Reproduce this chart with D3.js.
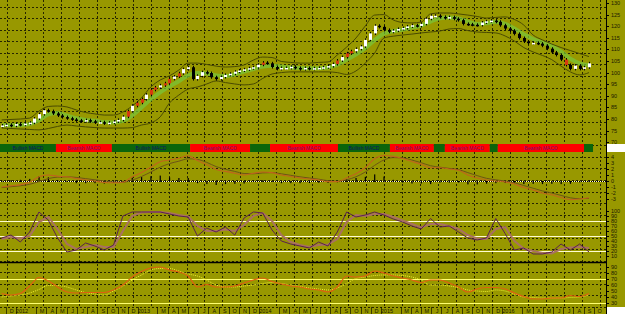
<!DOCTYPE html>
<html>
<head>
<meta charset="utf-8">
<script src="https://cdn.jsdelivr.net/npm/d3@7/dist/d3.min.js"></script>
<style>
  body { margin: 0; background: #989800; }
  svg { display: block; font-family: "Liberation Sans", Arial, sans-serif; }
</style>
</head>
<body>
<div id="viz-container"></div>
<script>
// biweekly price bars
let candleStart = "2011-11-07";
let closes = [77.2,77.5,77.1,77.8,77.5,78.0,78.4,80.2,82.1,83.8,
  83.4,82.4,81.5,80.8,80.3,79.8,79.4,79.1,79.5,79.0,
  78.5,78.6,78.1,78.4,78.9,79.6,81.0,83.4,85.7,87.0,
  88.6,90.5,92.6,93.6,94.5,95.4,97.3,98.3,99.7,101.5,
  102.3,97.2,98.6,100.2,99.8,98.0,97.2,98.1,99.0,99.5,
  100.4,100.9,101.4,101.9,102.3,103.4,104.3,104.0,102.4,101.6,
  102.0,102.0,102.5,102.0,101.5,102.0,101.6,101.9,102.0,102.3,
  102.8,103.7,105.2,106.7,108.3,109.2,110.2,111.3,114.1,116.9,
  120.2,119.7,118.4,117.6,118.1,118.8,119.2,119.9,120.4,120.1,
  121.0,123.2,124.5,124.5,124.0,123.5,123.9,123.2,122.6,121.0,
  120.8,120.6,120.5,121.6,122.1,122.4,121.9,120.4,119.0,118.1,
  116.7,114.9,113.4,112.7,112.8,112.5,111.6,110.3,108.7,107.6,
  105.6,103.3,101.6,103.0,101.6,102.3,104.0];
let firstOpen = 77.0;
let redCandles = [27,29,30,32,33,35,36,38,56,72,74,75,121];

// 4-weekly indicator samples
let sampleStart = "2011-11-07";
let bbUpper = [79.6,79.8,80.0,80.4,83.4,85.4,85.6,85.2,83.9,82.8,82.2,81.7,81.7,83.0,85.6,89.1,93.8,96.8,98.6,101.1,
  104.1,104.1,103.5,102.8,102.4,102.6,103.3,105.4,106.7,106.5,104.8,104.4,104.1,104.1,104.4,104.6,107.6,111.0,114.9,120.1,
  124.8,125.0,122.7,121.6,121.4,121.8,125.3,125.7,125.7,125.3,124.8,124.2,123.5,123.8,124.0,122.9,120.5,116.2,114.1,112.3,
  110.8,109.5,108.2,106.9];
let bbLower = [76.1,75.9,75.7,75.5,75.3,75.9,76.8,77.4,77.0,76.6,76.3,76.1,76.1,76.1,76.3,77.4,78.3,80.9,86.9,90.3,
  92.9,93.8,95.1,96.4,95.7,95.1,94.7,95.1,97.5,99.4,100.0,100.3,100.3,100.3,100.3,100.3,100.0,99.2,100.7,104.1,
  108.4,114.9,115.7,116.2,116.6,117.1,117.5,117.9,118.8,119.0,118.1,117.5,117.3,117.1,115.8,113.6,110.8,108.9,107.4,105.6,
  102.8,100.3,99.0,100.0];
let maLine = [77.3,77.3,77.4,77.8,79.5,82.0,82.6,81.5,80.3,79.6,79.2,78.7,78.5,79.2,81.5,85.0,88.5,91.5,94.0,96.3,
  98.8,99.8,99.6,98.8,98.5,99.3,100.4,101.5,102.6,103.0,102.6,102.2,102.0,101.9,101.9,102.2,103.4,105.5,107.8,110.5,
  114.0,116.8,117.9,118.5,119.4,120.3,122.0,123.4,123.8,123.3,122.0,121.0,121.3,121.9,121.0,119.0,116.5,114.5,113.0,111.5,
  109.0,106.0,104.0,103.2];
let macdLine = [-1.0,-0.8,-0.6,-0.2,0.7,1.0,0.8,0.7,0.4,0.2,0.0,-0.25,-0.3,-0.2,0.7,1.4,2.3,3.2,3.5,3.8,
  4.2,3.4,2.75,1.9,1.6,1.3,1.0,1.3,1.5,1.4,1.0,0.75,0.5,0.33,0.17,-0.1,-0.1,0.5,1.2,2.2,
  3.7,4.25,4.1,3.75,3.25,2.8,2.2,2.2,2.0,1.8,1.0,0.5,0.17,0.0,-0.17,-0.5,-1.1,-1.5,-2.0,-2.3,
  -2.75,-3.1,-3.0,-2.8];
let signalLine = [-1.1,-0.95,-0.8,-0.55,-0.1,0.4,0.65,0.7,0.6,0.4,0.2,0.0,-0.15,-0.2,0.15,0.75,1.5,2.3,2.9,3.3,
  3.7,3.6,3.1,2.4,1.95,1.6,1.25,1.2,1.35,1.4,1.2,0.95,0.7,0.5,0.3,0.05,-0.05,0.2,0.7,1.5,
  2.6,3.5,3.9,3.85,3.5,3.05,2.55,2.3,2.1,1.9,1.4,0.9,0.45,0.2,0.0,-0.3,-0.75,-1.2,-1.65,-2.0,
  -2.4,-2.8,-2.95,-2.9];
let stochK = [46,52,38,58,98,82,46,18,22,36,30,22,32,90,98,98,98,98,94,90,
  88,50,66,58,68,52,86,98,96,62,40,34,30,26,38,30,58,98,88,92,
  98,92,84,78,70,64,85,68,70,58,46,42,46,85,55,22,26,14,14,18,
  34,22,34,18];
let stochD = [44,48,45,50,78,88,64,34,24,28,32,28,28,60,90,97,98,98,96,92,
  89,70,60,60,63,60,72,90,96,80,52,38,32,28,32,33,44,78,92,90,
  94,94,88,81,74,67,74,74,70,64,52,45,44,64,68,40,25,20,16,15,
  24,27,28,26];
let rsiOrange = [45.8,43.3,45.8,58.3,72.5,66.7,56.7,48.3,46.7,47.5,47.5,47.5,51.7,60,73.3,82.5,88.3,90,85,81.7,
  75,56.7,60.8,56.7,56.7,58.3,63.3,68.3,71.7,65.8,61.7,58.3,56.7,53.3,51.7,48.3,56.7,75,73.3,75,
  83.3,80,75,71.7,68.3,64.2,68.3,68.3,63.3,56.7,48.3,53.3,55.8,55.8,53.3,46.7,40.8,36.7,36.7,38.3,
  38.3,42.5,40.8,45.8];
let rsiYellow = [40,41.7,43.3,46.7,52.5,59.2,59.2,56.7,51.7,47.5,45,43.3,50,58.3,68.3,76.7,85,87.5,87.5,83.3,
  78.3,75,68,60,56.7,56.7,58.3,60,62.5,64.2,62.5,60,57.5,55,53.3,51.7,55,62.5,70.8,73.3,
  75.8,76.7,76.7,75.8,73.3,68.3,60,60,58.3,55.8,51.7,50,49.2,51.7,50,45,40,39.2,38.3,38.3,
  38.3,39.2,40,43.3];

// MACD state strip
let macdStates = [
  ["2011-11-02","2012-04-18","Bullish"], ["2012-04-18","2012-10-03","Bearish"],
  ["2012-10-03","2013-05-26","Bullish"], ["2013-05-26","2013-11-22","Bearish"],
  ["2013-11-22","2014-01-21","Bullish"], ["2014-01-21","2014-08-13","Bearish"],
  ["2014-08-13","2015-01-16","Bullish"], ["2015-01-16","2015-05-28","Bearish"],
  ["2015-05-28","2015-06-30","Bullish"], ["2015-06-30","2015-11-12","Bearish"],
  ["2015-11-12","2015-12-06","Bullish"], ["2015-12-06","2016-08-21","Bearish"],
  ["2016-08-21","2016-09-17","Bullish"]
];

let priceTicks = [130,125,120,115,110,105,100,95,90,85,80,75,70];
let macdTicks = [4,3,2,1,0,-1,-2,-3];
let stochTicks = [100,90,80,70,60,50,40,30,20,10];
let lowerTicks = [90,80,70,60,50,40,30];
let stochLevels = [80,50,20];
let lowerLevels = [70,30];
let monthInitials = ["J","F","M","A","M","J","J","A","S","O","N","D"];

let parse = d3.utcParse("%Y-%m-%d");
let axisX = 606;

let viz = d3.select("#viz-container")
  .append("svg")
    .attr("width", 625)
    .attr("height", 314)
;

viz.append("rect").attr("width", 625).attr("height", 314).attr("fill", "#989800");

let x = d3.scaleUtc()
  .domain([parse("2011-11-02"), parse("2016-11-01")])
  .range([0, 608]);

let yPrice = d3.scaleLinear().domain([130, 70]).range([3, 142.2]);
let yMacd = d3.scaleLinear().domain([4, -3]).range([157, 199]);
let yStoch = d3.scaleLinear().domain([100, 0]).range([211, 261]);
let yLower = d3.scaleLinear().domain([90, 30]).range([267, 303]);

let candleDates = closes.map((c, i) => d3.utcDay.offset(parse(candleStart), 14 * i));
let sampleDates = macdLine.map((c, i) => d3.utcDay.offset(parse(sampleStart), 28 * i));

viz.append("clipPath").attr("id", "plot")
  .append("rect").attr("x", 0).attr("y", 0).attr("width", axisX).attr("height", 314);

let plot = viz.append("g").attr("clip-path", "url(#plot)");

// dotted grid
let grid = plot.append("g")
    .attr("stroke", "#000")
    .attr("stroke-width", 1)
    .attr("stroke-dasharray", "2,2")
    .attr("opacity", 0.75);
grid.selectAll(".gy").data(d3.range(6.7, 310, 11.55)).enter()
  .append("line")
    .attr("x1", 0).attr("x2", axisX)
    .attr("y1", d => Math.round(d) + 0.5).attr("y2", d => Math.round(d) + 0.5);
grid.selectAll(".gx").data(d3.range(6.7, axisX, 17.98)).enter()
  .append("line")
    .attr("y1", 0).attr("y2", 307)
    .attr("x1", d => Math.round(d) + 0.5).attr("x2", d => Math.round(d) + 0.5);

// ---- price panel
let bandLine = d3.line()
  .x((d, i) => x(sampleDates[i]))
  .y(d => yPrice(d))
  .curve(d3.curveMonotoneX);

plot.append("path")
  .attr("d", bandLine(maLine))
  .attr("fill", "none")
  .attr("stroke", "#78c83c")
  .attr("stroke-width", 4)
  .attr("opacity", 0.7);

[bbUpper, bbLower].forEach(band => {
  plot.append("path")
    .attr("d", bandLine(band))
    .attr("fill", "none")
    .attr("stroke", "#4a4a00")
    .attr("stroke-width", 1);
});

let candles = closes.map((c, i) => ({
  date: candleDates[i],
  open: i == 0 ? firstOpen : closes[i - 1],
  close: c,
  red: redCandles.includes(i)
}));

let cg = plot.append("g");
cg.selectAll("line").data(candles).enter()
  .append("line")
    .attr("x1", d => Math.round(x(d.date)) + 0.5)
    .attr("x2", d => Math.round(x(d.date)) + 0.5)
    .attr("y1", d => yPrice(Math.max(d.open, d.close)) - 1.5)
    .attr("y2", d => yPrice(Math.min(d.open, d.close)) + 1.5)
    .attr("stroke", "#000")
    .attr("stroke-width", 1);
cg.selectAll("rect").data(candles).enter()
  .append("rect")
    .attr("x", d => Math.round(x(d.date)) - 1)
    .attr("width", 3)
    .attr("y", d => yPrice(Math.max(d.open, d.close)))
    .attr("height", d => Math.max(1.5, Math.abs(yPrice(d.open) - yPrice(d.close))))
    .attr("fill", d => d.red ? "#d83a10" : (d.close >= d.open ? "#fff" : "#000"));

// ---- MACD state strip
let strip = viz.append("g");
strip.selectAll("rect").data(macdStates).enter()
  .append("rect")
    .attr("x", d => x(parse(d[0])))
    .attr("width", d => x(parse(d[1])) - x(parse(d[0])))
    .attr("y", 144).attr("height", 8)
    .attr("fill", d => d[2] == "Bullish" ? "#0b650b" : "#ff0000");
strip.selectAll("text").data(macdStates.filter(d => x(parse(d[1])) - x(parse(d[0])) > 32)).enter()
  .append("text")
    .attr("x", d => (x(parse(d[0])) + x(parse(d[1]))) / 2)
    .attr("y", 150)
    .attr("text-anchor", "middle")
    .attr("font-size", 5)
    .attr("fill", d => d[2] == "Bullish" ? "#10106a" : "#7a1070")
    .text(d => d[2] + " MACD");
viz.append("rect").attr("x", 606).attr("y", 144).attr("width", 19).attr("height", 8).attr("fill", "#fff");

// ---- MACD panel
let macdData = macdLine.map((m, i) => ({date: sampleDates[i], macd: m, signal: signalLine[i]}));
plot.append("line")
  .attr("x1", 0).attr("x2", axisX)
  .attr("y1", yMacd(0) + 0.5).attr("y2", yMacd(0) + 0.5)
  .attr("stroke", "#000");
plot.append("line")
  .attr("x1", 0).attr("x2", axisX)
  .attr("y1", yMacd(0) + 0.5).attr("y2", yMacd(0) + 0.5)
  .attr("stroke", "#fff8d0")
  .attr("stroke-dasharray", "1,1");
plot.selectAll(".hist").data(macdData).enter()
  .append("rect")
    .attr("x", d => x(d.date) - 0.5)
    .attr("width", 1.2)
    .attr("y", d => Math.min(yMacd(0), yMacd(d.macd - d.signal)))
    .attr("height", d => Math.abs(yMacd(0) - yMacd(d.macd - d.signal)) + 1)
    .attr("fill", "#000");
plot.append("path")
  .attr("d", d3.line().x(d => x(d.date)).y(d => yMacd(d.signal)).curve(d3.curveMonotoneX)(macdData))
  .attr("fill", "none").attr("stroke", "#6e5418").attr("stroke-width", 1);
plot.append("path")
  .attr("d", d3.line().x(d => x(d.date)).y(d => yMacd(d.macd)).curve(d3.curveMonotoneX)(macdData))
  .attr("fill", "none").attr("stroke", "#c0641c").attr("stroke-width", 1.1);

// ---- stochastic panel
plot.selectAll(".slev").data(stochLevels).enter()
  .append("line")
    .attr("x1", 0).attr("x2", axisX)
    .attr("y1", d => Math.round(yStoch(d)) + 0.5).attr("y2", d => Math.round(yStoch(d)) + 0.5)
    .attr("stroke", "#fffcd0").attr("stroke-width", 1);
let stochData = stochK.map((k, i) => ({date: sampleDates[i], k: k, d: stochD[i]}));
plot.append("path")
  .attr("d", d3.line().x(d => x(d.date)).y(d => yStoch(d.d))(stochData))
  .attr("fill", "none").attr("stroke", "#a87060").attr("stroke-width", 2);
plot.append("path")
  .attr("d", d3.line().x(d => x(d.date)).y(d => yStoch(d.k))(stochData))
  .attr("fill", "none").attr("stroke", "#5a2050").attr("stroke-width", 1);

plot.append("line")
  .attr("x1", 0).attr("x2", axisX)
  .attr("y1", 262.5).attr("y2", 262.5)
  .attr("stroke", "#000").attr("stroke-width", 1.5);

// ---- lower oscillator panel
plot.selectAll(".llev").data(lowerLevels).enter()
  .append("line")
    .attr("x1", 0).attr("x2", axisX)
    .attr("y1", d => Math.round(yLower(d)) + 0.5).attr("y2", d => Math.round(yLower(d)) + 0.5)
    .attr("stroke", "#ffff70").attr("stroke-width", 1);
let lowerData = rsiOrange.map((v, i) => ({date: sampleDates[i], a: v, b: rsiYellow[i]}));
plot.append("path")
  .attr("d", d3.line().x(d => x(d.date)).y(d => yLower(d.b)).curve(d3.curveMonotoneX)(lowerData))
  .attr("fill", "none").attr("stroke", "#f0f030").attr("stroke-width", 1).attr("stroke-dasharray", "1,1");
plot.append("path")
  .attr("d", d3.line().x(d => x(d.date)).y(d => yLower(d.a)).curve(d3.curveMonotoneX)(lowerData))
  .attr("fill", "none").attr("stroke", "#e06010").attr("stroke-width", 1.2);

// ---- right axis
viz.append("line")
  .attr("x1", axisX + 0.5).attr("x2", axisX + 0.5)
  .attr("y1", 0).attr("y2", 314)
  .attr("stroke", "#000");

function rightLabels(ticks, scale) {
  let g = viz.append("g");
  g.selectAll("line").data(ticks).enter()
    .append("line")
      .attr("x1", axisX).attr("x2", axisX + 3)
      .attr("y1", d => Math.round(scale(d)) + 0.5).attr("y2", d => Math.round(scale(d)) + 0.5)
      .attr("stroke", "#000");
  g.selectAll("text").data(ticks).enter()
    .append("text")
      .attr("x", axisX + 5)
      .attr("y", d => scale(d))
      .attr("dy", "0.35em")
      .attr("font-size", 5.5)
      .attr("fill", "#1a1a00")
      .text(d => d);
}
rightLabels(priceTicks, yPrice);
rightLabels(macdTicks, yMacd);
rightLabels(stochTicks, yStoch);
rightLabels(lowerTicks, yLower);

// ---- bottom month labels
let months = d3.utcMonth.range(parse("2011-12-01"), parse("2016-10-02"))
  .filter(m => m.getUTCMonth() != 1);
let bottom = viz.append("g");
bottom.selectAll("line").data(months).enter()
  .append("line")
    .attr("x1", d => Math.round(x(d)) - 3.5).attr("x2", d => Math.round(x(d)) - 3.5)
    .attr("y1", 307).attr("y2", 314)
    .attr("stroke", "#000").attr("opacity", 0.6);
bottom.selectAll("text").data(months).enter()
  .append("text")
    .attr("x", d => x(d) + 2)
    .attr("y", 313)
    .attr("text-anchor", "middle")
    .attr("font-size", 5.5)
    .attr("fill", "#1a1a00")
    .text(d => d.getUTCMonth() == 0 ? d.getUTCFullYear() : monthInitials[d.getUTCMonth()]);
viz.append("rect").attr("x", 607).attr("y", 307).attr("width", 18).attr("height", 7).attr("fill", "#fff");
</script>
</body>
</html>
